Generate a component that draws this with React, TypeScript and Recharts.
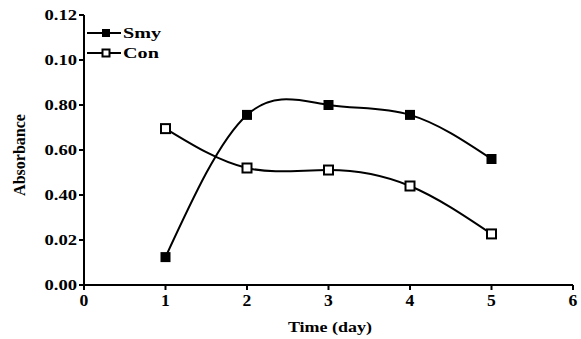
import { LineChart, Line, XAxis, YAxis } from 'recharts'

const days = [1, 2, 3, 4, 5]
const smy = [0.0124, 0.0756, 0.08, 0.0756, 0.056]
const con = [0.0695, 0.052, 0.0511, 0.044, 0.0227]
const yTicks = [0, 0.02, 0.04, 0.06, 0.08, 0.1, 0.12]
const yTickLabels = ['0.00', '0.02', '0.40', '0.60', '0.80', '0.10', '0.12']
const xTicks = [0, 1, 2, 3, 4, 5, 6]

const data = days.map((d, i) => ({ day: d, Smy: smy[i], Con: con[i] }))

const font = 'Liberation Serif'

const stretch = (x: number, y: number, s: number) =>
      `translate(${x},${y}) scale(${s},1) translate(${-x},${-y})`

const YTick = (props: any) => {
      const { x, y, payload } = props
      const i = yTicks.findIndex(t => Math.abs(t - payload.value) < 1e-9)
      return (
            <text x={x} y={y} dy="0.35em" textAnchor="end" fontFamily={font} fontWeight="bold" fontSize={15.5}
                  fill="#000" transform={stretch(x, y, 1.2)}>
                  {yTickLabels[i]}
            </text>
      )
}

const XTick = (props: any) => {
      const { x, y, payload } = props
      return (
            <text x={x} y={y} dy="0.8em" textAnchor="middle" fontFamily={font} fontWeight="bold" fontSize={16}
                  fill="#000" transform={stretch(x, y, 1.1)}>
                  {payload.value}
            </text>
      )
}

const SolidDot = (props: any) => {
      const { cx, cy, index } = props
      return <rect key={'s' + index} x={cx - 5} y={cy - 5} width={10} height={10} fill="#000" />
}

const OpenDot = (props: any) => {
      const { cx, cy, index } = props
      return <rect key={'c' + index} x={cx - 4.5} y={cy - 4.5} width={9} height={9} fill="#fff" stroke="#000" strokeWidth={2} />
}

const LegendBox = () => {
      const items = [{ name: 'Smy', filled: true }, { name: 'Con', filled: false }]
      return (
            <div style={{ position: 'absolute', left: 87, top: 23, fontFamily: font, fontWeight: 'bold', fontSize: 15.5, lineHeight: '20px' }}>
                  {items.map(it => (
                        <div key={it.name} style={{ display: 'flex', alignItems: 'center', height: 20 }}>
                              <svg width={34} height={12}>
                                    <line x1={0} y1={6} x2={34} y2={6} stroke="#000" strokeWidth={2} />
                                    {it.filled
                                          ? <rect x={15} y={2} width={8} height={8} fill="#000" />
                                          : <rect x={15.5} y={2.5} width={7} height={7} fill="#fff" stroke="#000" strokeWidth={2} />}
                              </svg>
                              <span style={{ display: 'inline-block', marginLeft: 2, transform: 'scaleX(1.3)', transformOrigin: 'left center' }}>
                                    {it.name}
                              </span>
                        </div>
                  ))}
            </div>
      )
}

export default function App() {
      return (
            <div style={{ position: 'absolute', left: 0, top: 0, width: 581, height: 339, background: '#fff' }}>
                  <LineChart width={581} height={339} data={data} margin={{ top: 15, right: 8, left: 0, bottom: 24 }}>
                        <XAxis dataKey="day" type="number" domain={[0, 6]} ticks={xTicks} interval={0}
                              axisLine={{ stroke: '#000', strokeWidth: 2 }} tickLine={{ stroke: '#000', strokeWidth: 2 }}
                              tickSize={5} tickMargin={3} height={30} tick={<XTick />}
                              label={{
                                    content: () => (
                                          <text x={330} y={332} textAnchor="middle" fontFamily={font} fontWeight="bold" fontSize={15}
                                                fill="#000" transform={stretch(330, 332, 1.2)}>
                                                Time (day)
                                          </text>
                                    )
                              }} />
                        <YAxis type="number" domain={[0, 0.12]} ticks={yTicks} interval={0} width={84}
                              axisLine={{ stroke: '#000', strokeWidth: 2 }} tickLine={{ stroke: '#000', strokeWidth: 2 }}
                              tickSize={5} tickMargin={2} tick={<YTick />}
                              label={{
                                    content: () => (
                                          <text x={25} y={155} textAnchor="middle" fontFamily={font} fontWeight="bold" fontSize={16}
                                                fill="#000" transform="rotate(-90 25 155)">
                                                Absorbance
                                          </text>
                                    )
                              }} />
                        <Line type="natural" dataKey="Smy" stroke="#000" strokeWidth={2} dot={<SolidDot />} activeDot={false}
                              isAnimationActive={false} />
                        <Line type="natural" dataKey="Con" stroke="#000" strokeWidth={2} dot={<OpenDot />} activeDot={false}
                              isAnimationActive={false} />
                  </LineChart>
                  <LegendBox />
            </div>
      )
}
